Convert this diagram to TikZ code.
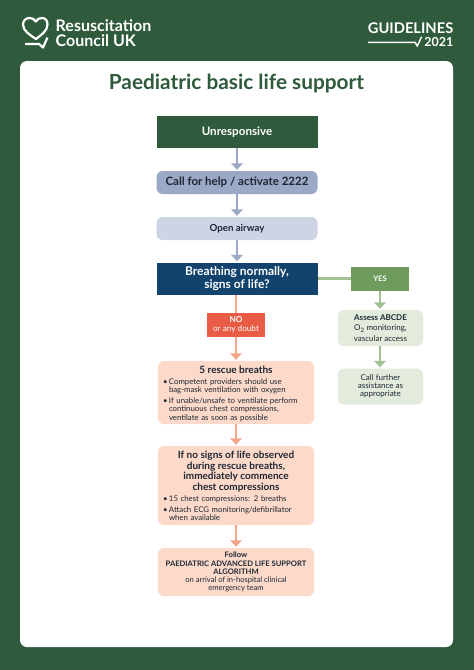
\documentclass[tikz,border=0pt]{standalone}
\usepackage{fontspec}
\setmainfont{Lato}
\usetikzlibrary{arrows.meta,positioning}
\definecolor{rcgreen}{HTML}{2F5B3C}
\definecolor{rcnavy}{HTML}{12436D}
\definecolor{rcblue}{HTML}{9BA8C6}
\definecolor{rcpale}{HTML}{CDD4E4}
\definecolor{rcred}{HTML}{E85C45}
\definecolor{rcsalmon}{HTML}{F4A58A}
\definecolor{rcpeach}{HTML}{FCD9C9}
\definecolor{rcyes}{HTML}{6F9C5C}
\definecolor{rcsage}{HTML}{A3BF94}
\definecolor{rcmist}{HTML}{E3EBDC}
\definecolor{rcink}{HTML}{1D2733}
\newcommand{\bul}[1]{\hangindent=6pt\hangafter=1\noindent\makebox[6pt][l]{\textbullet}#1\par}
\tikzset{
	flowbox/.style={minimum width=161pt,inner sep=0pt,align=center},
	sidebox/.style={minimum width=85pt,inner sep=0pt,rounded corners=6pt,fill=rcmist,align=center,text=rcink},
	peachbox/.style={minimum width=156pt,inner sep=0pt,rounded corners=6pt,fill=rcpeach,align=center,text=rcink},
	tagbox/.style={minimum width=58pt,inner sep=0pt,align=center,text=white,font=\fontsize{8.2}{8.8}\selectfont},
	bluearrow/.style={draw=rcblue,line width=2.8pt,shorten >=1pt,-{Triangle[width=11.5pt,length=6.5pt]}},
	salmonarrow/.style={draw=rcsalmon,line width=2.8pt,shorten >=1pt,-{Triangle[width=11.5pt,length=6.5pt]}},
	sagearrow/.style={draw=rcsage,line width=2.8pt,shorten >=1pt,-{Triangle[width=11.5pt,length=6.5pt]}},
	bulletstext/.style={text width=146pt,inner sep=0pt,align=left,text=rcink,font=\fontsize{7.8}{8.1}\selectfont},
}
\begin{document}
\begin{tikzpicture}[x=1pt,y=-1pt]
	\useasboundingbox (0,0) rectangle (474,670);
	\fill [rcgreen] (0,0) rectangle (474,670);
	% white sheet
	\fill [white, rounded corners=7pt] (20,61) -- (453,61) -- (453,647) -- (20,647) -- cycle;
	% logo
	\draw [white, line width=2.2pt, line join=round] (36,39) .. controls (30,35) and (23,31) .. (23,24.5) .. controls (23,20.5) and (26,18) .. (29.5,18) .. controls (32,18) and (34.5,19) .. (35.8,21.5) .. controls (37,19) and (39.5,18) .. (42,18) .. controls (45.5,18) and (47.5,20.5) .. (47.5,24.5) .. controls (47.5,31) and (41,35) .. (36,39) -- cycle;
	\draw [white, line width=2.2pt, line join=round] (25,44) -- (39,44) -- (43,47.5) -- (47.5,37.5);
	\node [anchor=west, inner sep=0pt, text=white, align=left, font=\fontsize{16}{15.5}\selectfont\bfseries] (rclogo) at (55.5,33) {Resuscitation\\Council UK};
	\node [anchor=east, inner sep=0pt, text=white, font=\fontsize{14.7}{15}\selectfont\bfseries] (guide) at (453.5,28.5) {GUIDELINES};
	\node [anchor=east, inner sep=0pt, text=white, font=\fontsize{12.5}{14}\selectfont\bfseries] (year) at (453.5,41.5) {2021};
	\draw [white, line width=1.4pt] (368,42.3) -- (415,42.3) -- (417.3,46) -- (421.6,36.7);
	% title
	\node [text=rcgreen, inner sep=0pt, font=\fontsize{20.8}{22}\selectfont\bfseries] (title) at (236.5,84) {Paediatric basic life support};
	% main column
	\node [flowbox, minimum height=32pt, fill=rcgreen, text=white, font=\fontsize{11.6}{12}\selectfont\bfseries] (unresp) at (237,132) {Unresponsive};
	\node [flowbox, minimum height=23pt, fill=rcblue, rounded corners=6pt, text=rcink, font=\fontsize{11.5}{12}\selectfont\bfseries] (callhelp) at (237,182.5) {Call for help / activate 2222};
	\node [flowbox, minimum height=23pt, fill=rcpale, rounded corners=6pt, text=rcink, font=\fontsize{9.7}{10}\selectfont\bfseries] (airway) at (237,228.5) {Open airway};
	\node [flowbox, minimum height=32pt, fill=rcnavy, text=white, font=\fontsize{12}{12.3}\selectfont\bfseries] (breathing) at (237,278.5) {Breathing normally,\\signs of life?};
	\node [tagbox, minimum height=24pt, fill=rcred] (no) at (236,325) {\bfseries NO\\or any doubt};
	\node [tagbox, minimum height=24pt, fill=rcyes, font=\fontsize{7.6}{8}\selectfont\bfseries] (yes) at (380,278.5) {YES};
	\node [sidebox, minimum height=36pt, font=\fontsize{8}{10.5}\selectfont] (assess) at (380.5,328) {\textbf{Assess ABCDE}\\O\textsubscript{2} monitoring,\\vascular access};
	\node [sidebox, minimum height=36pt, font=\fontsize{8}{8.2}\selectfont] (further) at (380.5,386.5) {Call further\\assistance as\\appropriate};
	% peach boxes
	\node [peachbox, minimum height=63pt] (rescue) at (236,392.5) {};
	\node [below=5pt of rescue.north, inner sep=0pt, text=rcink, font=\fontsize{10}{11}\selectfont\bfseries] (rescuehead) {5 rescue breaths};
	\node [bulletstext, below=5pt of rescuehead] (rescuelist) {\bul{Competent providers should use\newline bag-mask ventilation with oxygen}\vspace{3pt}\bul{If unable/unsafe to ventilate perform\newline continuous chest compressions,\newline ventilate as soon as possible}};
	\node [peachbox, minimum height=79pt] (compress) at (236,485.5) {};
	\node [below=5.5pt of compress.north, inner sep=0pt, align=center, text=rcink, font=\fontsize{10}{10.5}\selectfont\bfseries] (compresshead) {If no signs of life observed\\during rescue breaths,\\immediately commence\\chest compressions};
	\node [bulletstext, below=3.5pt of compresshead] (compresslist) {\bul{15 chest compressions: 2 breaths}\vspace{3pt}\bul{Attach ECG monitoring/defibrillator\newline when available}};
	\node [peachbox, minimum height=48pt, font=\fontsize{7.6}{8.1}\selectfont] (follow) at (236,572) {\textbf{Follow}\\\textbf{PAEDIATRIC ADVANCED LIFE SUPPORT}\\\textbf{ALGORITHM}\\on arrival of in-hospital clinical\\emergency team};
	% connectors
	\draw [bluearrow] (unresp) -- (callhelp);
	\draw [bluearrow] (callhelp) -- (airway);
	\draw [bluearrow] (airway) -- (breathing);
	\draw [draw=rcsalmon, line width=2.8pt] (breathing.south -| no) -- (no);
	\draw [salmonarrow] (no) -- (rescue.north -| no);
	\draw [salmonarrow] (rescue) -- (compress);
	\draw [salmonarrow] (compress) -- (follow);
	\draw [draw=rcsage, line width=2.8pt] (breathing.east |- yes) -- (yes);
	\draw [sagearrow] (yes) -- (assess.north -| yes);
	\draw [sagearrow] (assess.south -| yes) -- (further.north -| yes);
\end{tikzpicture}
\end{document}
